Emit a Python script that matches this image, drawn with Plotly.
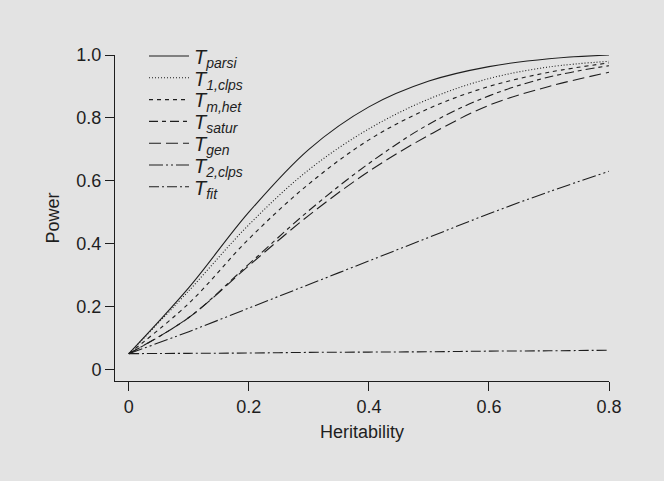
import plotly.graph_objects as go

# Heritability grid and power of each test statistic
heritability = [0.0, 0.1, 0.2, 0.3, 0.4, 0.5, 0.6, 0.7, 0.8]

power_parsi = [0.05, 0.26, 0.50, 0.70, 0.835, 0.917, 0.963, 0.988, 1.0]
power_1clps = [0.05, 0.25, 0.46, 0.635, 0.765, 0.86, 0.925, 0.962, 0.98]
power_mhet = [0.05, 0.21, 0.415, 0.59, 0.73, 0.83, 0.90, 0.945, 0.975]
power_satur = [0.05, 0.165, 0.335, 0.505, 0.655, 0.78, 0.87, 0.93, 0.966]
power_gen = [0.05, 0.165, 0.33, 0.49, 0.63, 0.745, 0.84, 0.90, 0.945]
power_2clps = [0.05, 0.12, 0.195, 0.27, 0.345, 0.42, 0.495, 0.565, 0.63]
power_fit = [0.05, 0.051, 0.052, 0.054, 0.055, 0.056, 0.058, 0.059, 0.061]

x_ticks = [0, 0.2, 0.4, 0.6, 0.8]
x_tick_labels = ["0", "0.2", "0.4", "0.6", "0.8"]
y_ticks = [0, 0.2, 0.4, 0.6, 0.8, 1.0]
y_tick_labels = ["0", "0.2", "0.4", "0.6", "0.8", "1.0"]

series = [
    ("parsi", power_parsi, "solid"),
    ("1,clps", power_1clps, "1px,2px"),
    ("m,het", power_mhet, "4px,4px"),
    ("satur", power_satur, "9px,4px,4px,4px"),
    ("gen", power_gen, "12px,5px"),
    ("2,clps", power_2clps, "14px,3px,2px,3px,2px,3px"),
    ("fit", power_fit, "10px,3px,2px,3px"),
]

BG = "#e3e3e3"
INK = "#1e1e1e"
FONT = "Liberation Sans, Arial, sans-serif"

# plot area in pixels: left 115, right 609, top 55, bottom 381
L, R, T, B = 115, 609, 55, 381
W, H = 664, 481

fig = go.Figure()
layout_legends = {}
for i, (sub, vals, dash) in enumerate(series):
    name = "legend" if i == 0 else f"legend{i + 1}"
    fig.add_trace(go.Scatter(
        x=heritability, y=vals, mode="lines", line_shape="spline",
        line=dict(color=INK, width=1.1, dash=dash),
        name=f"<i>T<sub>{sub}</sub></i>",
        legend=name, showlegend=True,
    ))
    # one legend box per series so the rows can sit tightly together
    row_px = 56 + 21.8 * i
    layout_legends[name] = dict(
        x=(144 - L) / (R - L), xanchor="left",
        y=(B - row_px) / (B - T), yanchor="middle",
        bgcolor="rgba(0,0,0,0)", borderwidth=0,
        font=dict(family=FONT, size=20, color=INK),
        itemwidth=40, tracegroupgap=0,
    )

fig.update_layout(
    width=W, height=H,
    margin=dict(l=L, r=W - R, t=T, b=H - B, pad=0),
    paper_bgcolor=BG, plot_bgcolor=BG,
    font=dict(family=FONT, size=18, color=INK),
    xaxis=dict(
        range=[-0.023, 0.8], tickvals=x_ticks, ticktext=x_tick_labels,
        showgrid=False, zeroline=False, showline=True, linecolor=INK, linewidth=1,
        ticks="outside", ticklen=9, tickcolor=INK, tickwidth=1,
        title=dict(text="Heritability", font=dict(size=18), standoff=9),
    ),
    yaxis=dict(
        range=[-0.037, 1.0], tickvals=y_ticks, ticktext=y_tick_labels,
        showgrid=False, zeroline=False, showline=True, linecolor=INK, linewidth=1,
        ticks="outside", ticklen=9, tickcolor=INK, tickwidth=1,
        title=dict(text="Power", font=dict(size=18), standoff=12),
    ),
    **layout_legends,
)

fig.write_html("out.html")
